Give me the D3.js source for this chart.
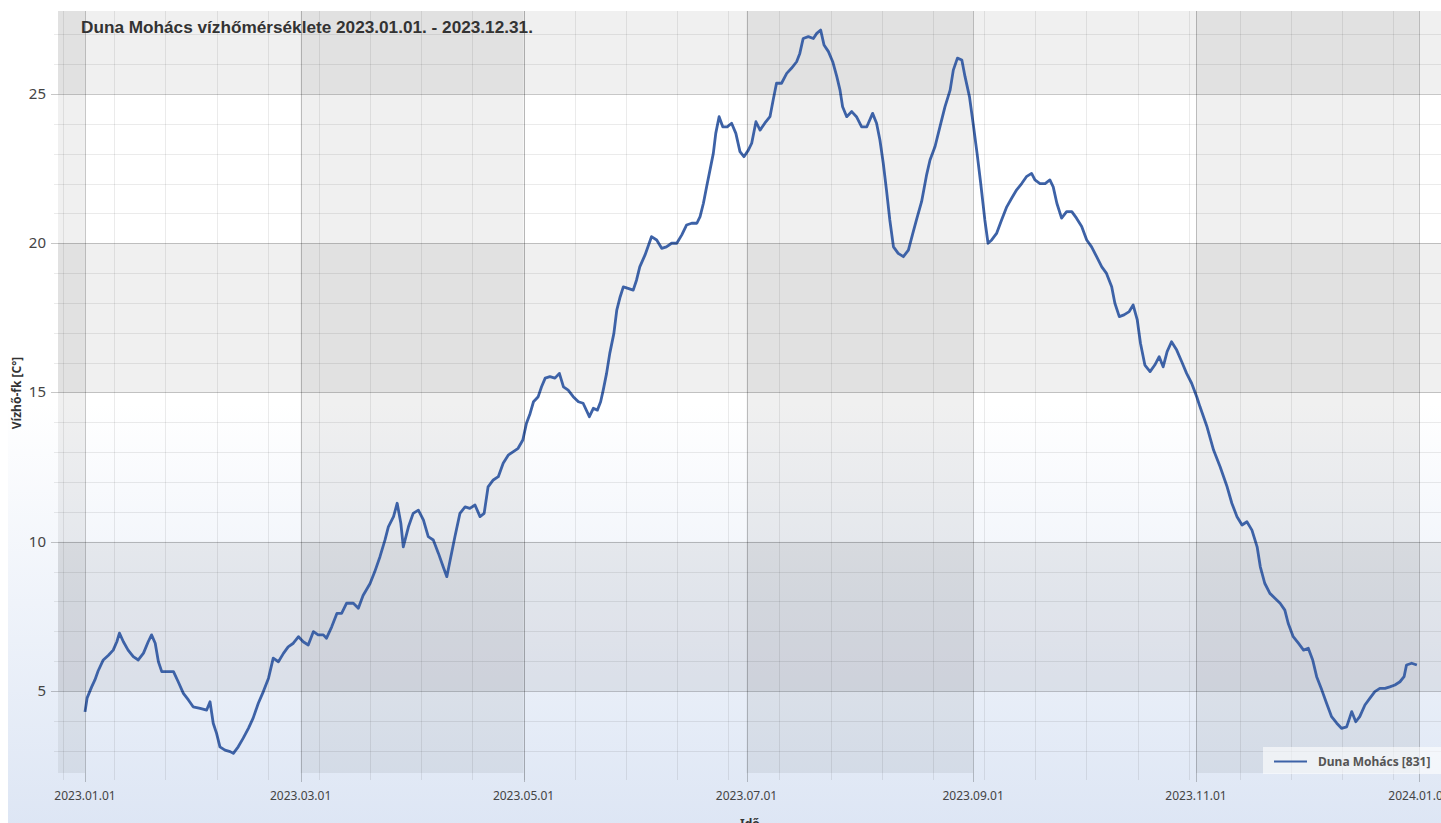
<!DOCTYPE html>
<html>
<head>
<meta charset="utf-8">
<script src="https://cdn.jsdelivr.net/npm/d3@7"></script>
<style>
  html, body { margin: 0; padding: 0; background: #fff; overflow: hidden; }
  svg { display: block; }
</style>
</head>
<body>
<div id="chart"></div>
<script>
(function(){
  // values (days counted from 2023.01.01.)
  const sampleDays = [
    0,0.6,1.8,2.7,3.6,5.0,6.4,7.7,8.7,9.4,10.5,11.8,13.2,14.6,16.0,17.3,18.2,19.2,20.1,21.0,
    22.8,24.2,25.5,26.9,28.3,29.6,31.5,33.3,34.2,35.1,36.0,36.9,38.3,39.7,40.6,41.9,43.3,44.7,46.0,47.4,
    48.8,50.2,51.5,52.9,54.3,55.6,57.0,58.4,59.7,61.1,62.5,63.8,65.2,66.1,67.5,68.9,70.2,71.6,73.4,74.8,76.1,
    78.0,79.3,80.7,82.1,83.0,84.4,85.4,86.4,87.1,88.5,89.8,91.2,92.6,93.9,95.3,96.7,98.0,99.0,99.9,101.2,
    102.6,104.0,105.3,106.7,108.1,109.2,110.3,111.7,113.1,114.4,115.8,117.2,118.5,119.8,120.8,121.8,122.7,124.0,124.9,125.9,
    127.2,128.6,129.8,130.9,132.2,133.6,135.0,136.3,138.0,139.1,140.2,141.1,141.8,142.7,143.6,144.7,145.5,146.4,147.3,148.6,
    150.0,150.9,151.8,153.2,
    155.0,156.4,157.8,159.1,160.5,161.9,163.3,164.6,166.0,167.4,168.3,169.2,170.1,171.0,171.9,172.6,173.5,174.5,175.7,176.9,
    178.1,179.2,180.3,181.5,182.4,183.6,184.7,186.0,187.4,188.3,189.2,190.6,192.0,193.3,194.7,195.6,196.5,197.9,199.3,200.2,
    201.3,202.2,203.4,204.6,205.7,206.6,207.3,208.4,209.8,211.1,212.5,213.9,215.5,216.6,217.5,218.4,219.3,220.2,221.2,222.5,
    223.9,225.3,226.5,227.5,228.9,
    230.3,231.2,232.6,233.9,235.3,236.7,237.6,238.7,239.9,240.8,242.0,243.0,244.1,245.1,246.2,247.1,248.1,249.4,250.8,252.2,
    253.5,254.9,256.3,257.6,259.0,259.9,261.3,262.7,264.0,264.9,265.9,267.2,268.6,270.0,271.3,272.7,274.1,275.4,276.8,278.2,
    279.5,280.9,281.8,283.0,284.3,285.7,286.8,287.9,288.8,290.0,291.4,292.7,293.9,295.0,296.1,297.3,298.7,300.1,301.4,302.8,304.2,
    305.1,307.0,308.8,310.6,312.5,313.8,315.2,316.6,317.9,319.3,320.7,321.6,322.8,324.2,325.6,327.0,328.3,329.2,330.6,332.0,
    333.4,334.7,335.9,337.0,338.4,339.7,341.1,342.5,343.8,345.2,346.6,347.7,348.8,350.2,351.6,352.9,354.3,355.7,357.0,358.4,
    359.8,360.9,361.6,363.0,364.4
  ];
  const waterTemps = [
    4.3,4.77,5.13,5.37,5.67,6.04,6.2,6.37,6.65,6.94,6.65,6.37,6.15,6.04,6.27,6.65,6.88,6.6,5.98,5.65,
    5.65,5.65,5.31,4.92,4.7,4.47,4.42,4.36,4.64,3.92,3.58,3.13,3.02,2.97,2.91,3.13,3.42,3.75,4.09,4.59,
    4.98,5.43,6.1,5.98,6.26,6.48,6.6,6.82,6.65,6.54,6.99,6.88,6.88,6.77,7.15,7.6,7.6,7.94,7.94,7.77,8.2,
    8.6,9.0,9.5,10.06,10.5,10.84,11.29,10.62,9.83,10.5,10.95,11.06,10.73,10.17,10.06,9.61,9.16,8.83,9.39,10.17,
    10.95,11.17,11.12,11.23,10.84,10.95,11.84,12.07,12.18,12.63,12.9,13.02,13.13,13.41,13.97,14.3,14.69,14.86,15.19,15.48,
    15.53,15.48,15.64,15.19,15.08,14.86,14.69,14.64,14.19,14.47,14.41,14.69,15.08,15.64,16.31,16.98,17.76,18.2,18.54,18.49,
    18.43,18.77,19.21,19.6,
    20.22,20.11,19.83,19.88,20.0,20.0,20.28,20.61,20.67,20.67,20.89,21.34,21.89,22.45,23.01,23.68,24.24,23.9,23.9,24.02,
    23.68,23.07,22.9,23.12,23.35,24.07,23.79,24.02,24.24,24.8,25.36,25.36,25.69,25.86,26.08,26.36,26.86,26.92,26.86,27.03,
    27.14,26.64,26.42,26.08,25.58,25.13,24.57,24.24,24.41,24.24,23.9,23.9,24.35,24.02,23.46,22.68,21.79,20.78,19.88,19.66,
    19.55,19.77,20.33,20.78,21.4,
    22.3,22.79,23.24,23.9,24.57,25.13,25.8,26.2,26.14,25.58,24.91,24.02,23.01,22.0,20.78,20.0,20.11,20.33,20.78,21.22,
    21.5,21.79,22.0,22.23,22.34,22.12,22.0,22.0,22.12,21.89,21.34,20.84,21.06,21.06,20.84,20.56,20.11,19.88,19.55,19.21,
    18.99,18.54,17.99,17.54,17.6,17.71,17.93,17.43,16.65,15.92,15.7,15.92,16.2,15.86,16.37,16.7,16.42,16.03,15.64,15.31,14.85,
    14.52,13.85,13.07,12.51,11.84,11.29,10.84,10.56,10.67,10.39,9.83,9.16,8.61,8.27,8.11,7.94,7.71,7.27,6.82,6.6,
    6.37,6.43,6.04,5.48,5.03,4.59,4.14,3.92,3.75,3.8,4.31,3.97,4.14,4.53,4.76,4.98,5.09,5.09,5.14,5.2,
    5.31,5.48,5.87,5.93,5.87
  ];
  const yTickValues = [5, 10, 15, 20, 25];
  const seriesName = 'Duna Mohács [831]';
  const chartTitle = 'Duna Mohács vízhőmérséklete 2023.01.01. - 2023.12.31.';
  const yTitle = 'Vízhő-fk [C°]';
  const xTitle = 'Idő';

  const start = new Date(2023, 0, 1);
  const data = sampleDays.map((d, i) => ({
    date: d3.timeHour.offset(start, Math.round(d * 24)),
    value: waterTemps[i]
  }));

  const width = 1441;
  const height = 823;
  const plot = { left: 58, right: 1446, top: 11, bottom: 773 };

  const x = d3.scaleTime()
    .domain([d3.timeMinute.offset(new Date(2022, 11, 24), 878), d3.timeMinute.offset(new Date(2024, 0, 8), 562)])
    .range([plot.left, plot.right]);
  const y = d3.scaleLinear()
    .domain([2.253, 27.78])
    .range([plot.bottom, plot.top]);

  const svg = d3.select('#chart').append('svg')
    .attr('width', width)
    .attr('height', height);

  const defs = svg.append('defs');
  const grad = defs.append('linearGradient')
    .attr('id', 'bg').attr('x1', 0).attr('y1', 0).attr('x2', 0).attr('y2', 1);
  grad.append('stop').attr('offset', '0%').attr('stop-color', '#ffffff');
  grad.append('stop').attr('offset', '48%').attr('stop-color', '#ffffff');
  grad.append('stop').attr('offset', '100%').attr('stop-color', '#dce5f4');
  defs.append('clipPath').attr('id', 'plotclip')
    .append('rect')
    .attr('x', plot.left).attr('y', plot.top)
    .attr('width', plot.right - plot.left).attr('height', plot.bottom - plot.top);

  svg.append('rect')
    .attr('x', 8).attr('y', 0)
    .attr('width', width).attr('height', 840)
    .attr('fill', 'url(#bg)');

  const plotG = svg.append('g').attr('clip-path', 'url(#plotclip)');

  // interlaced bands
  const majorX = d3.timeMonth.every(2).range(d3.timeMonth.offset(x.domain()[0], -2), x.domain()[1]);
  const xBands = [];
  majorX.forEach((d, i) => { if (i % 2 === 0) xBands.push([d, d3.timeMonth.offset(d, 2)]); });
  plotG.selectAll('.xband').data(xBands).enter().append('rect')
    .attr('x', d => x(d[0]))
    .attr('width', d => x(d[1]) - x(d[0]))
    .attr('y', plot.top).attr('height', plot.bottom - plot.top)
    .attr('fill', 'rgba(0,0,0,0.06)');

  const yBands = [[5, 10], [15, 20], [25, 30]];
  plotG.selectAll('.yband').data(yBands).enter().append('rect')
    .attr('x', plot.left).attr('width', plot.right - plot.left)
    .attr('y', d => y(d[1]))
    .attr('height', d => y(d[0]) - y(d[1]))
    .attr('fill', 'rgba(0,0,0,0.06)');

  // grid
  const minorX = d3.timeDay.range(new Date(2022, 11, 26), x.domain()[1], 14);
  const minorY = d3.range(3, 28).filter(v => v % 5 !== 0);

  svg.selectAll('.gx-minor').data(minorX).enter().append('line')
    .attr('x1', d => Math.round(x(d)) + 0.5).attr('x2', d => Math.round(x(d)) + 0.5)
    .attr('y1', plot.top).attr('y2', plot.bottom + 7)
    .attr('stroke', 'rgba(0,0,0,0.08)');
  svg.selectAll('.gy-minor').data(minorY).enter().append('line')
    .attr('x1', plot.left - 4).attr('x2', plot.right)
    .attr('y1', d => Math.round(y(d)) + 0.5).attr('y2', d => Math.round(y(d)) + 0.5)
    .attr('stroke', 'rgba(0,0,0,0.08)');

  const xTicks = d3.timeMonth.every(2).range(new Date(2023, 0, 1), new Date(2024, 0, 2));
  svg.selectAll('.gx-major').data(xTicks).enter().append('line')
    .attr('x1', d => Math.round(x(d)) + 0.5).attr('x2', d => Math.round(x(d)) + 0.5)
    .attr('y1', plot.top).attr('y2', plot.bottom + 9)
    .attr('stroke', 'rgba(0,0,0,0.22)');
  svg.selectAll('.gy-major').data(yTickValues).enter().append('line')
    .attr('x1', plot.left - 7).attr('x2', plot.right)
    .attr('y1', d => Math.round(y(d)) + 0.5).attr('y2', d => Math.round(y(d)) + 0.5)
    .attr('stroke', 'rgba(0,0,0,0.22)');

  // axes labels
  const fmt = d3.timeFormat('%Y.%m.%d');
  svg.selectAll('.xl').data(xTicks).enter().append('text')
    .attr('x', d => x(d)).attr('y', 800)
    .attr('text-anchor', 'middle')
    .style('font', '12px "Noto Sans", sans-serif')
    .style('fill', '#444')
    .text(d => fmt(d));
  svg.selectAll('.yl').data(yTickValues).enter().append('text')
    .attr('x', 46).attr('y', d => y(d) + 5)
    .attr('text-anchor', 'end')
    .style('font', '15px "Noto Sans", sans-serif')
    .style('fill', '#444')
    .text(d => d);

  svg.append('text')
    .attr('transform', 'translate(21,393) rotate(-90)')
    .attr('text-anchor', 'middle')
    .style('font', 'bold 12px "Noto Sans", sans-serif')
    .style('fill', '#333')
    .text(yTitle);
  svg.append('text')
    .attr('x', (plot.left + plot.right) / 2 - 2).attr('y', 828)
    .attr('text-anchor', 'middle')
    .style('font', 'bold 12px "Noto Sans", sans-serif')
    .style('fill', '#333')
    .text(xTitle);

  // series
  const line = d3.line()
    .x(d => x(d.date))
    .y(d => y(d.value));
  plotG.append('path')
    .datum(data)
    .attr('d', line)
    .attr('fill', 'none')
    .attr('stroke', '#3d62a7')
    .attr('stroke-width', 2.8)
    .attr('stroke-linejoin', 'round');

  // title
  svg.append('text')
    .attr('x', 81).attr('y', 33)
    .style('font', 'bold 17.2px "Liberation Sans", Arial, sans-serif')
    .style('fill', '#333')
    .text(chartTitle);

  // legend
  const legend = svg.append('g').attr('transform', 'translate(1263,747)');
  legend.append('rect')
    .attr('width', 190).attr('height', 27)
    .attr('fill', 'rgba(255,255,255,0.6)');
  legend.append('line')
    .attr('x1', 11).attr('x2', 44).attr('y1', 14.5).attr('y2', 14.5)
    .attr('stroke', '#3d62a7').attr('stroke-width', 2);
  legend.append('text')
    .attr('x', 55).attr('y', 19)
    .style('font', 'bold 12px "Noto Sans", sans-serif')
    .style('fill', '#555')
    .text(seriesName);
})();
</script>
</body>
</html>
